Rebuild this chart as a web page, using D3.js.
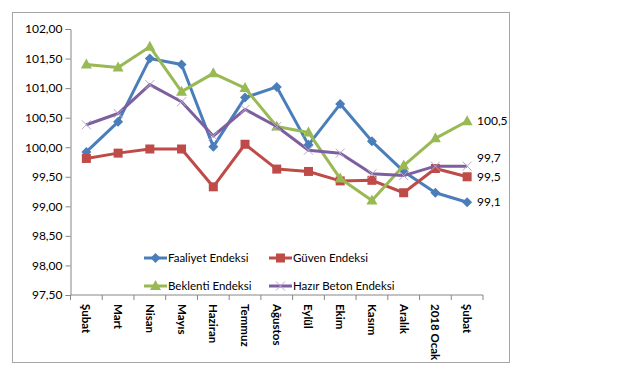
<!DOCTYPE html>
<html>
<head>
<meta charset="utf-8">
<script src="https://cdn.jsdelivr.net/npm/d3@7"></script>
<style>
  body { margin: 0; background: #fff; }
  text { font-family: Lato, "Liberation Sans", sans-serif; }
</style>
</head>
<body>
<div id="chart"></div>
<script>
// month labels (two Şubat entries, so we index by position)
const months = ["Şubat", "Mart", "Nisan", "Mayıs", "Haziran", "Temmuz", "Ağustos", "Eylül", "Ekim", "Kasım", "Aralık", "2018 Ocak", "Şubat"];

const faaliyet = [99.92, 100.43, 101.50, 101.40, 100.01, 100.84, 101.02, 100.04, 100.73, 100.10, 99.59, 99.23, 99.07];
const guven = [99.81, 99.90, 99.97, 99.97, 99.33, 100.05, 99.63, 99.59, 99.43, 99.44, 99.23, 99.64, 99.50];
const beklenti = [101.40, 101.35, 101.70, 100.94, 101.25, 101.00, 100.35, 100.25, 99.47, 99.10, 99.69, 100.15, 100.44];
const hazirBeton = [100.38, 100.57, 101.06, 100.77, 100.19, 100.64, 100.35, 99.95, 99.90, 99.55, 99.52, 99.68, 99.68];

const yTicks = [97.5, 98, 98.5, 99, 99.5, 100, 100.5, 101, 101.5, 102];
const endLabels = ["99,1", "99,5", "100,5", "99,7"];

const series = [
  { name: "Faaliyet Endeksi", values: faaliyet, color: "#4a7ebb", marker: "diamond", end: endLabels[0], shift: 0 },
  { name: "Güven Endeksi", values: guven, color: "#be4b48", marker: "square", end: endLabels[1], shift: 0 },
  { name: "Beklenti Endeksi", values: beklenti, color: "#98b954", marker: "triangle", end: endLabels[2], shift: 0 },
  { name: "Hazır Beton Endeksi", values: hazirBeton, color: "#7d5fa0", marker: "x", end: endLabels[3], shift: -8 },
];

const width = 620;
const height = 375;
const plot = { left: 70.5, right: 483, top: 29, bottom: 295 };

const svg = d3
  .select("#chart")
  .append("svg")
  .attr("width", width)
  .attr("height", height);

// outer frame
svg
  .append("rect")
  .attr("x", 12.5)
  .attr("y", 12.5)
  .attr("width", 497)
  .attr("height", 350)
  .attr("fill", "#fff")
  .attr("stroke", "#a6a6a6")
  .attr("stroke-width", 1);

const x = d3
  .scaleBand()
  .domain(d3.range(months.length))
  .range([plot.left, plot.right]);

const y = d3
  .scaleLinear()
  .domain([97.5, 102])
  .range([plot.bottom, plot.top]);

const fmt = (d) => d.toFixed(2).replace(".", ",");

// Y axis
const yAxis = svg
  .append("g")
  .attr("transform", `translate(${plot.left},0)`)
  .call(d3.axisLeft(y).tickValues(yTicks).tickFormat(fmt).tickSize(5).tickPadding(3));
yAxis.select(".domain").attr("stroke", "#868686");
yAxis.selectAll(".tick line").attr("stroke", "#868686");
yAxis
  .selectAll(".tick text")
  .style("font-family", "Lato, 'Liberation Sans', sans-serif")
  .style("font-size", "12px")
  .attr("fill", "#000");

// X axis with boundary ticks
const xAxis = svg.append("g").attr("transform", `translate(0,${plot.bottom})`);
xAxis
  .append("line")
  .attr("x1", plot.left)
  .attr("x2", plot.right)
  .attr("stroke", "#868686");
xAxis
  .selectAll(".bound")
  .data(d3.range(months.length + 1))
  .enter()
  .append("line")
  .attr("x1", (i) => plot.left + i * x.step())
  .attr("x2", (i) => plot.left + i * x.step())
  .attr("y1", 0)
  .attr("y2", 5)
  .attr("stroke", "#868686");
xAxis
  .selectAll(".lbl")
  .data(months)
  .enter()
  .append("text")
  .attr("transform", (d, i) => `translate(${x(i) + x.bandwidth() / 2},9) rotate(90)`)
  .attr("dy", "0.35em")
  .attr("text-anchor", "start")
  .style("font-size", "11.5px")
  .style("font-weight", "bold")
  .text((d) => d);

function drawMarker(g, type, color, cx, cy) {
  if (type === "diamond") {
    g.append("path")
      .attr("d", `M${cx},${cy - 5}L${cx + 5},${cy}L${cx},${cy + 5}L${cx - 5},${cy}Z`)
      .attr("fill", color);
  } else if (type === "square") {
    g.append("rect")
      .attr("x", cx - 4.5)
      .attr("y", cy - 4.5)
      .attr("width", 9)
      .attr("height", 9)
      .attr("fill", color);
  } else if (type === "triangle") {
    g.append("path")
      .attr("d", `M${cx},${cy - 6}L${cx + 5.5},${cy + 4}L${cx - 5.5},${cy + 4}Z`)
      .attr("fill", color);
  } else {
    g.append("path")
      .attr("d", `M${cx - 4.5},${cy - 4.5}L${cx + 4.5},${cy + 4.5}M${cx - 4.5},${cy + 4.5}L${cx + 4.5},${cy - 4.5}`)
      .attr("stroke", "#b7a6cc")
      .attr("stroke-width", 1);
  }
}

const line = d3
  .line()
  .x((d, i) => x(i) + x.bandwidth() / 2)
  .y((d) => y(d));

series.forEach((s) => {
  const g = svg.append("g");
  g.append("path")
    .attr("d", line(s.values))
    .attr("fill", "none")
    .attr("stroke", s.color)
    .attr("stroke-width", 3)
    .attr("stroke-linejoin", "round");
  s.values.forEach((v, i) => drawMarker(g, s.marker, s.color, x(i) + x.bandwidth() / 2, y(v)));

  // last value label
  svg
    .append("text")
    .attr("x", 477)
    .attr("y", y(s.values[s.values.length - 1]) + s.shift)
    .attr("dy", "0.35em")
    .style("font-size", "12px")
    .text(s.end);
});

// legend
const legendPos = [
  { x: 144, y: 258 },
  { x: 269, y: 258 },
  { x: 144, y: 286 },
  { x: 269, y: 286 },
];
series.forEach((s, i) => {
  const p = legendPos[i];
  const g = svg.append("g");
  g.append("line")
    .attr("x1", p.x)
    .attr("x2", p.x + 23)
    .attr("y1", p.y)
    .attr("y2", p.y)
    .attr("stroke", s.color)
    .attr("stroke-width", 3);
  drawMarker(g, s.marker, s.color, p.x + 11.5, p.y);
  g.append("text")
    .attr("x", p.x + 24)
    .attr("y", p.y)
    .attr("dy", "0.35em")
    .style("font-size", "11.5px")
    .text(s.name);
});
</script>
</body>
</html>
